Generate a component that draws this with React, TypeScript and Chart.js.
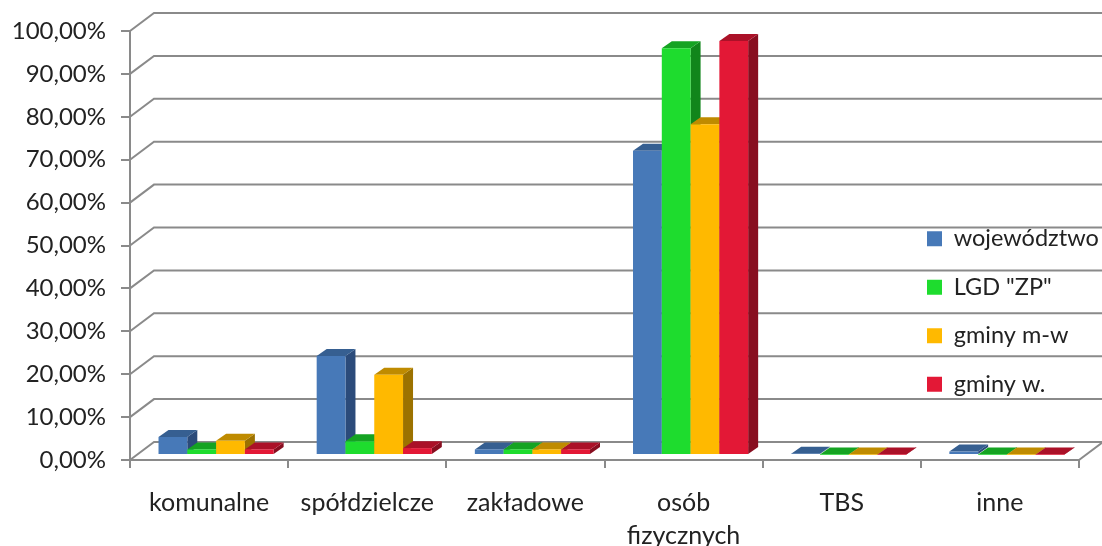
import React, { useEffect, useRef } from "react";
import { Chart, registerables } from "chart.js";

Chart.register(...registerables);

const categories = ["komunalne", "spółdzielcze", "zakładowe", ["osób", "fizycznych"], "TBS", "inne"];
const wojewodztwo = [4.2, 23.1, 1.3, 70.9, 0.3, 0.8];
const lgdZp = [1.3, 3.2, 1.3, 94.8, 0.1, 0.1];
const gminyMw = [3.3, 18.7, 1.3, 77.1, 0.1, 0.1];
const gminyW = [1.3, 1.6, 1.3, 96.5, 0.1, 0.1];

const seriesNames = ["województwo", 'LGD "ZP"', "gminy m-w", "gminy w."];
const seriesValues = [wojewodztwo, lgdZp, gminyMw, gminyW];
const frontColors = ["#4779B8", "#1EDC2E", "#FFB900", "#E31836"];
const topColors = ["#365F91", "#15A322", "#BF8B00", "#AB1128"];
const sideColors = ["#2B4B7A", "#11851B", "#9C7200", "#880E20"];

const GRID = "#8a8a8a";
const TEXT = "#222222";
const FONT = "Lato, sans-serif";

// 3D projection of the chart box
const WALL_DX = 24;
const WALL_DY = -18;
const BAR_SHIFT_X = 7;
const BAR_SHIFT_Y = -5;
const BAR_DX = 10;
const BAR_DY = -7;

const box3d = {
  id: "box3d",
  beforeDraw(chart: any) {
    const { ctx, chartArea } = chart;
    const y = chart.scales.y;
    ctx.save();
    ctx.strokeStyle = GRID;
    ctx.lineWidth = 2;
    for (const t of y.ticks) {
      const py = y.getPixelForValue(t.value);
      ctx.beginPath();
      ctx.moveTo(chartArea.left, py);
      ctx.lineTo(chartArea.left + WALL_DX, py + WALL_DY);
      ctx.lineTo(chartArea.right + WALL_DX, py + WALL_DY);
      ctx.stroke();
    }
    const base = y.getPixelForValue(0);
    ctx.beginPath();
    ctx.moveTo(chartArea.right, base);
    ctx.lineTo(chartArea.right + WALL_DX, base + WALL_DY);
    ctx.stroke();
    ctx.restore();
  },
  // The library paints the first dataset last; here the bars must overlap
  // left to right, so each dataset is painted below in index order.
  beforeDatasetDraw() {
    return false;
  },
  afterDatasetsDraw(chart: any) {
    const { ctx } = chart;
    seriesNames.forEach((_, i) => {
      const meta = chart.getDatasetMeta(i);
      ctx.save();
      ctx.translate(BAR_SHIFT_X, BAR_SHIFT_Y);
      for (const el of meta.data) {
        const { x, y, base, width } = el.getProps(["x", "y", "base", "width"], true);
        const l = x - width / 2;
        const r = x + width / 2;
        ctx.fillStyle = sideColors[i];
        ctx.beginPath();
        ctx.moveTo(r, base);
        ctx.lineTo(r + BAR_DX, base + BAR_DY);
        ctx.lineTo(r + BAR_DX, y + BAR_DY);
        ctx.lineTo(r, y);
        ctx.closePath();
        ctx.fill();
        ctx.fillStyle = topColors[i];
        ctx.beginPath();
        ctx.moveTo(l, y);
        ctx.lineTo(l + BAR_DX, y + BAR_DY);
        ctx.lineTo(r + BAR_DX, y + BAR_DY);
        ctx.lineTo(r, y);
        ctx.closePath();
        ctx.fill();
      }
      meta.controller.draw();
      ctx.restore();
    });
  },
  afterLayout(chart: any) {
    const lg = chart.legend;
    lg.left = 902;
    lg.right = 1102;
    lg.top = 202;
    lg.bottom = 430;
  },
};

export default function App() {
  const ref = useRef<HTMLCanvasElement>(null);
  useEffect(() => {
    const chart = new Chart(ref.current as HTMLCanvasElement, {
      type: "bar",
      data: {
        labels: categories as any,
        datasets: seriesNames.map((name, i) => ({
          label: name,
          data: seriesValues[i],
          backgroundColor: frontColors[i],
          borderWidth: 0,
        })),
      },
      options: {
        responsive: false,
        animation: false,
        layout: { padding: { top: 31, right: 23, left: 0, bottom: 0 } },
        datasets: { bar: { categoryPercentage: 0.728, barPercentage: 1 } },
        plugins: {
          tooltip: { enabled: false },
          legend: {
            position: "chartArea" as any,
            align: "start",
            labels: {
              boxWidth: 15,
              boxHeight: 15,
              padding: 25,
              color: TEXT,
              font: { family: FONT, size: 23.5 },
            },
          },
        },
        scales: {
          x: {
            offset: true,
            grid: { offset: true, drawOnChartArea: false, drawTicks: true, tickLength: 8, color: GRID, lineWidth: 2 },
            border: { display: true, color: GRID, width: 2 },
            ticks: {
              color: TEXT,
              padding: 18,
              maxRotation: 0,
              autoSkip: false,
              font: { family: FONT, size: 25, lineHeight: 1.32 },
            },
            afterFit(scale: any) {
              scale.height = 86;
            },
          },
          y: {
            min: 0,
            max: 100,
            grid: { drawOnChartArea: false, drawTicks: true, tickLength: 9, color: GRID, lineWidth: 2 },
            border: { display: true, color: GRID, width: 2 },
            ticks: {
              stepSize: 10,
              color: TEXT,
              padding: 15,
              font: { family: FONT, size: 24 },
              callback: (v: any) => Number(v).toFixed(2).replace(".", ",") + "%",
            },
            afterFit(scale: any) {
              scale.width = 130;
            },
          },
        },
      },
      plugins: [box3d],
    });
    return () => chart.destroy();
  }, []);
  return (
    <div style={{ position: "absolute", left: 0, top: 0, width: 1102, height: 546 }}>
      <canvas ref={ref} width={1102} height={546} style={{ display: "block" }} />
    </div>
  );
}
